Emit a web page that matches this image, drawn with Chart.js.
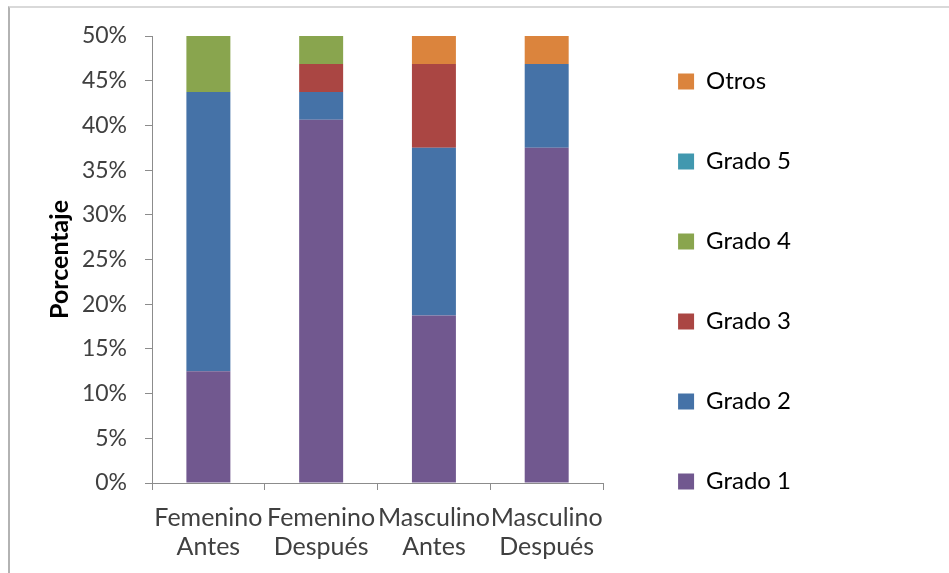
<!DOCTYPE html>
<html lang="es">
<head>
  <meta charset="UTF-8">
  <title>Porcentaje por grado</title>
  <script src="https://cdn.jsdelivr.net/npm/chart.js"></script>
  <style>
    body { margin: 0; background: #fff; }
    #wrap { position: relative; width: 949px; height: 573px; overflow: hidden; }
    #chart { position: absolute; left: 0; top: 0; }
    .frame {
      position: absolute; left: 8px; top: 6px; width: 960px; height: 600px;
      border-top: 2px solid #d9d9d9; border-left: 2px solid #b3b3b3;
      pointer-events: none;
    }
  </style>
</head>
<body>
  <div id="wrap">
    <canvas id="chart" width="949" height="573"></canvas>
    <div class="frame"></div>
  </div>
  <script>
    // categories (two-line labels)
    const categories = [
      ['Femenino', 'Antes'],
      ['Femenino', 'Después'],
      ['Masculino', 'Antes'],
      ['Masculino', 'Después']
    ];

    // percentages per category
    const grado1 = [12.5, 40.625, 18.75, 37.5];
    const grado2 = [31.25, 3.125, 18.75, 9.375];
    const grado3 = [0, 3.125, 9.375, 0];
    const grado4 = [6.25, 3.125, 0, 0];
    const grado5 = [0, 0, 0, 0];
    const otros = [0, 0, 3.125, 3.125];

    const yTicks = [0, 5, 10, 15, 20, 25, 30, 35, 40, 45, 50];

    const FONT = 'Lato';
    const axisColor = '#8c8c8c';

    const series = [
      { label: 'Grado 1', data: grado1, color: '#71588f' },
      { label: 'Grado 2', data: grado2, color: '#4572a7' },
      { label: 'Grado 3', data: grado3, color: '#aa4643' },
      { label: 'Grado 4', data: grado4, color: '#89a54e' },
      { label: 'Grado 5', data: grado5, color: '#4198af' },
      { label: 'Otros', data: otros, color: '#db843d' }
    ];

    // leave a small gap between the plot and the legend
    const legendGap = {
      id: 'legendGap',
      afterLayout(chart) {
        chart.legend.left += 19;
        chart.legend.right += 19;
      }
    };

    new Chart(document.getElementById('chart'), {
      type: 'bar',
      data: {
        labels: categories,
        datasets: series.map(s => ({
          label: s.label,
          data: s.data,
          backgroundColor: s.color,
          borderWidth: 0,
          categoryPercentage: 1,
          barPercentage: 0.39
        }))
      },
      plugins: [legendGap],
      options: {
        responsive: false,
        animation: false,
        layout: { padding: { left: 41, right: 167, top: 0, bottom: 10 } },
        plugins: {
          tooltip: { enabled: false },
          // empty title only reserves the space above the plot
          title: { display: true, text: '', padding: 13, font: { size: 10, lineHeight: 1 } },
          legend: {
            position: 'right',
            reverse: true,
            labels: {
              boxWidth: 16,
              boxHeight: 16,
              padding: 56,
              color: '#000',
              font: { family: FONT, size: 24 }
            }
          }
        },
        scales: {
          x: {
            stacked: true,
            afterFit: s => { s.height = 80; },
            grid: { drawOnChartArea: false, tickLength: 7, color: axisColor },
            border: { color: axisColor },
            ticks: {
              autoSkip: false,
              padding: 13,
              color: '#404040',
              font: { family: FONT, size: 25, lineHeight: 1.18 },
              maxRotation: 0
            }
          },
          y: {
            stacked: true,
            min: yTicks[0],
            max: yTicks[yTicks.length - 1],
            afterBuildTicks: s => { s.ticks = yTicks.map(v => ({ value: v })); },
            afterFit: s => { s.width = 111; },
            grid: { drawOnChartArea: false, tickLength: 7, color: axisColor },
            border: { color: axisColor },
            ticks: {
              padding: 18,
              color: '#404040',
              font: { family: FONT, size: 23 },
              callback: v => v + '%'
            },
            title: {
              display: true,
              text: 'Porcentaje',
              color: '#000',
              font: { family: FONT, size: 25, weight: 'bold' }
            }
          }
        }
      }
    });
  </script>
</body>
</html>
